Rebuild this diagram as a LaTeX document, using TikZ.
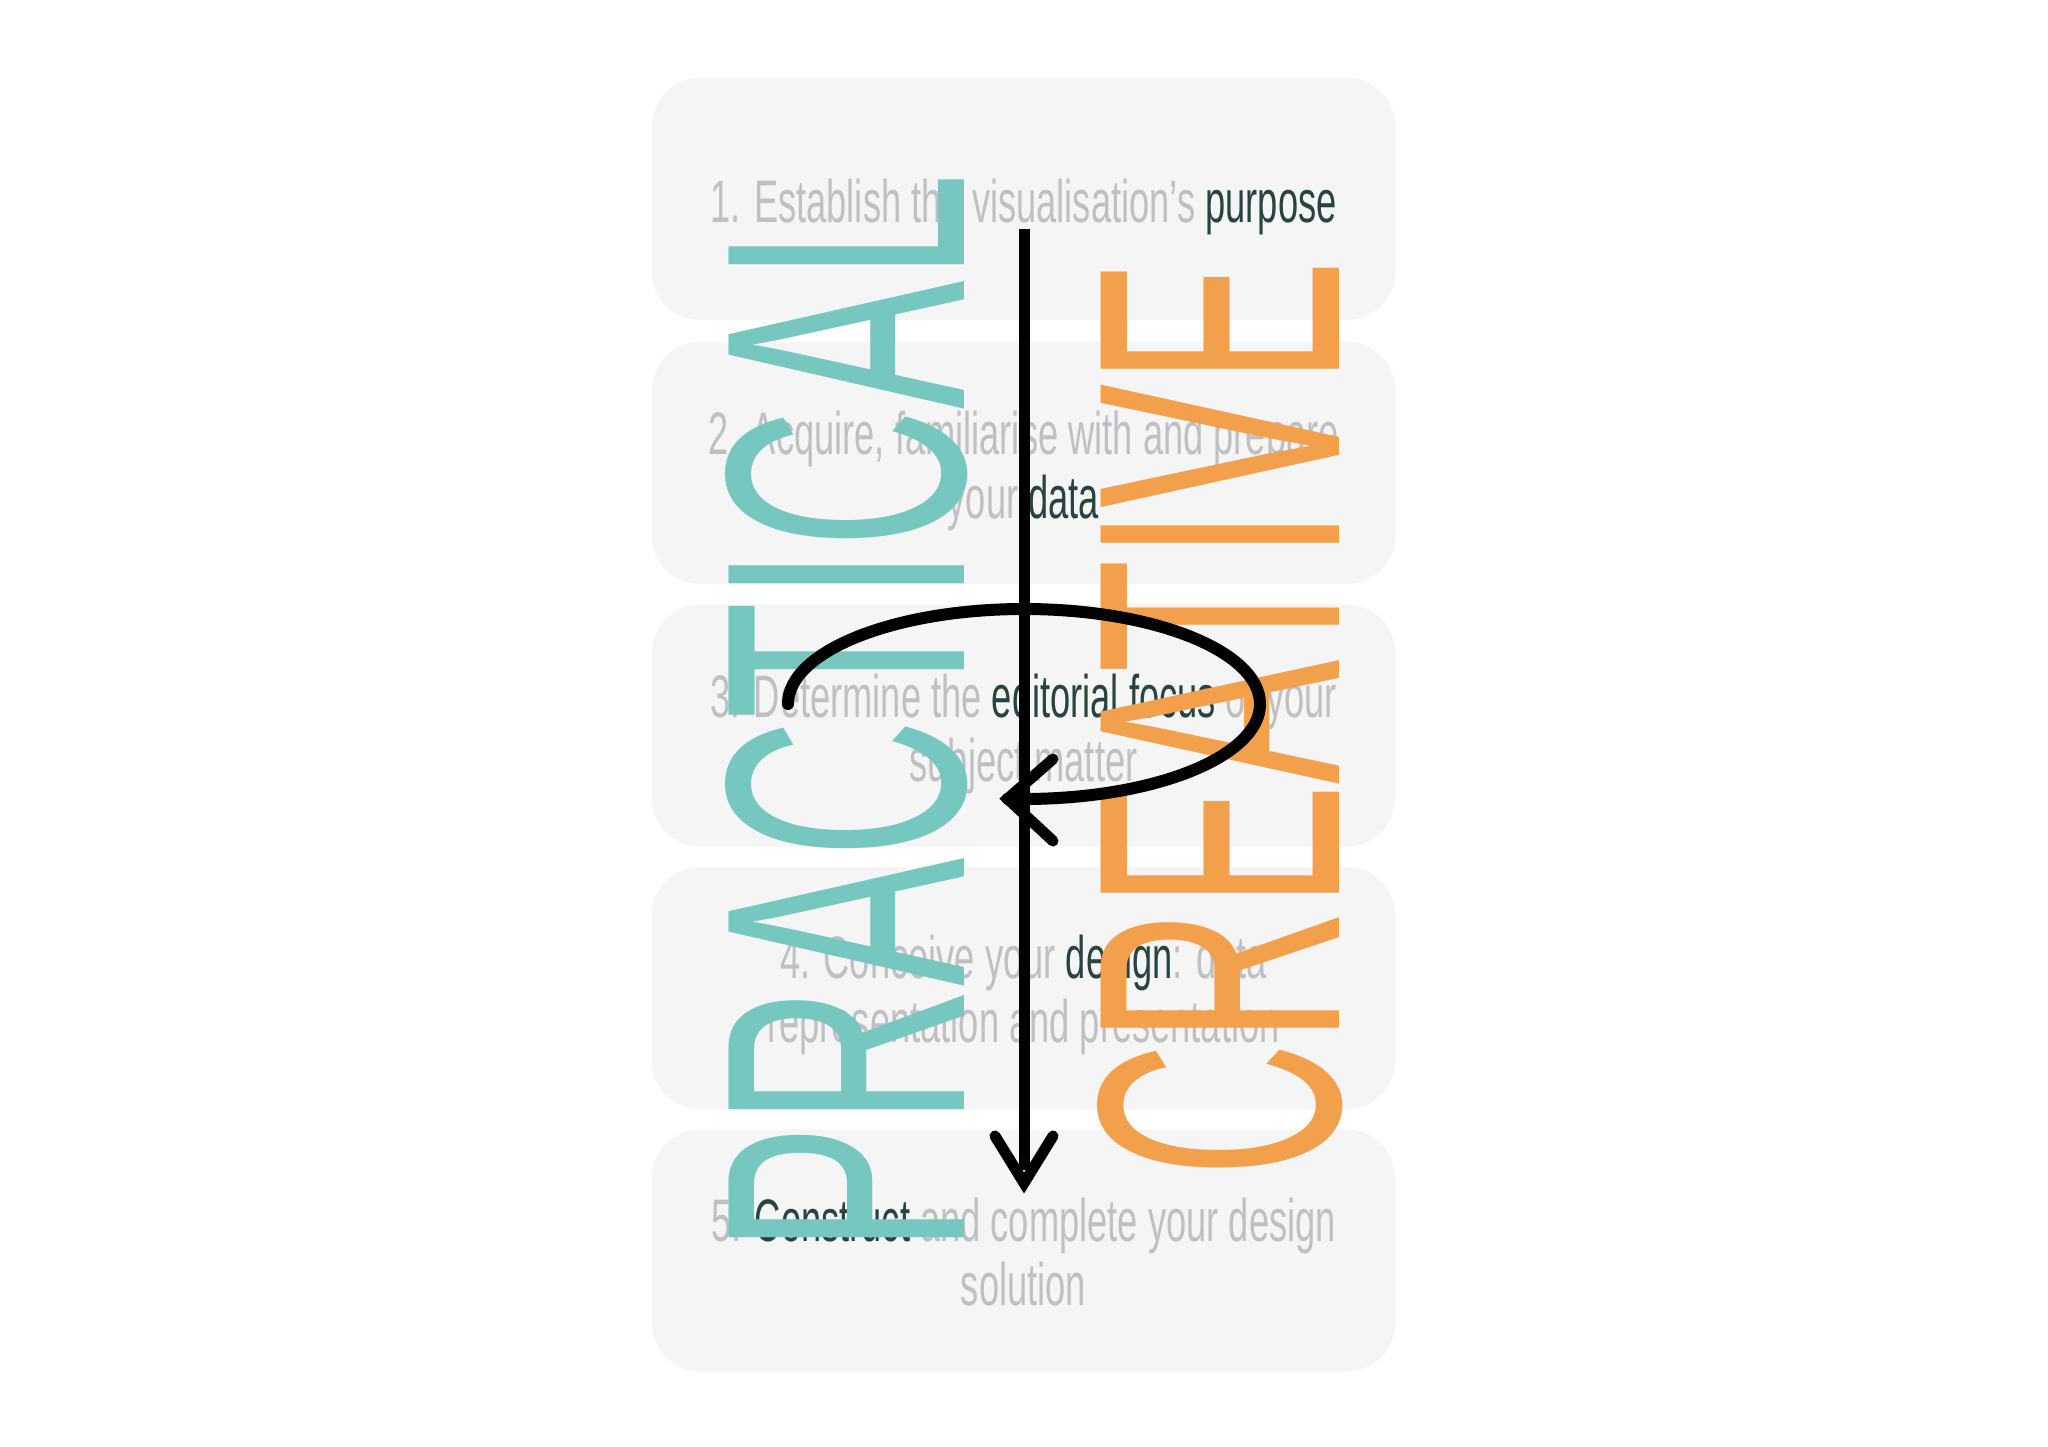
\documentclass[tikz,border=0pt]{standalone}
\usepackage{fontspec}
\setmainfont{Liberation Sans}
\usepackage{graphicx}
\definecolor{boxfill}{RGB}{245,245,246}
\definecolor{txtgrey}{RGB}{192,192,194}
\definecolor{txtdark}{RGB}{40,68,64}
\definecolor{pteal}{RGB}{117,199,191}
\definecolor{porange}{RGB}{243,160,77}
\newcommand{\cond}[1]{\scalebox{0.605}[1]{#1}}
\newcommand{\hl}[1]{\textcolor{txtdark}{#1}}
\begin{document}
\begin{tikzpicture}[x=1pt,y=-1pt,
  stagebox/.style={fill=boxfill, rounded corners=48pt, minimum width=743pt, minimum height=242pt, inner sep=0pt},
  stagetext/.style={text=txtgrey, align=center, font=\fontsize{60}{64}\selectfont, inner sep=0pt},
  bigword/.style={rotate=90, anchor=base west, inner sep=0pt, font=\fontsize{200}{200}\selectfont},
  arrowline/.style={line width=11pt, draw=black}]
\useasboundingbox[fill=white] (0,0) rectangle (2048,1447);
% stage boxes
\node[stagebox] (s1) at (1023.5,199) {};
\node[stagebox] (s2) at (1023.5,463) {};
\node[stagebox] (s3) at (1023.5,725.5) {};
\node[stagebox] (s4) at (1023.5,988) {};
\node[stagebox] (s5) at (1023.5,1250.5) {};
% stage texts
\node[stagetext] (t1) at ([yshift=-8pt]s1.center) {\cond{1. Establish the visualisation’s \hl{purpose}}};
\node[stagetext] (t2) at ([yshift=-8pt]s2.center) {\cond{2. Acquire, familiarise with and prepare}\\\cond{your \hl{data}}};
\node[stagetext] (t3) at ([yshift=-8pt]s3.center) {\cond{3. Determine the \hl{editorial focus} of your}\\\cond{subject matter}};
\node[stagetext] (t4) at ([yshift=-7pt]s4.center) {\cond{4. Conceive your \hl{design}: data}\\\cond{representation and presentation}};
\node[stagetext] (t5) at ([yshift=-2pt]s5.center) {\cond{5. \hl{Construct} and complete your design}\\\cond{solution}};
% big words
\node[bigword, text=pteal] (practical) at (964,1254) {\resizebox{1080pt}{239pt}{PRACTICAL}};
\node[bigword, text=porange] (creative) at (1339,1178) {\resizebox{918pt}{242pt}{CREATIVE}};
% vertical arrow
\coordinate (vstart) at (1024,229);
\coordinate (vtip) at (1024,1183);
\coordinate (vl) at (995,1136);
\coordinate (vr) at (1053,1136);
\draw[arrowline] (vstart) -- (1024,1170);
\draw[arrowline, line cap=round, line join=miter] (vl) -- (vtip) -- (vr);
% iteration loop
\coordinate (lstart) at (788,704);
\draw[arrowline, line width=12pt, line cap=round] (lstart) arc[start angle=180, end angle=454, x radius=236, y radius=95] coordinate (ltip);
\coordinate (lu) at (1053,759);
\coordinate (ld) at (1053,841);
\draw[arrowline, line cap=round, line join=miter] (lu) -- (ltip) -- (ld);
\end{tikzpicture}
\end{document}
